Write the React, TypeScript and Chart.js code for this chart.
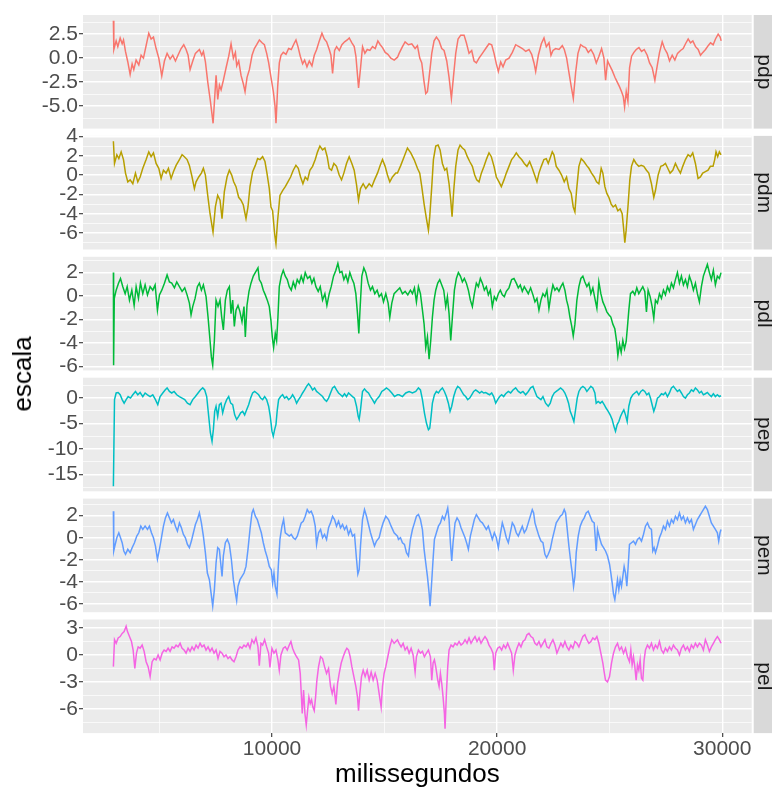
import React, { useEffect, useRef } from "react";
import { Chart, registerables } from "chart.js";

Chart.register(...registerables);

type Pt = [number, number];

// ---- series: [milissegundos, escala] ----
const pdp: Pt[] = [
  [2950,3.9],[2970,0.9],[3073,1.8],[3147,1.2],[3251,2.1],[3340,1.5],[3400,1.9],[3487,0.7],[3591,-0.4],[3694,-1.7],
  [3783,-0.6],[3857,-1.2],[3960,-0.2],[4079,-0.7],[4182,0.3],[4286,0.0],[4404,1.3],[4522,2.6],[4626,2.0],[4730,2.2],
  [4848,1.0],[4967,0.0],[5100,-1.85],[5218,-0.3],[5337,0.5],[5470,-0.1],[5588,0.3],[5707,-0.3],[5840,0.4],[5958,1.0],
  [6076,1.4],[6180,0.9],[6269,0.3],[6358,-1.2],[6476,-0.3],[6594,0.5],[6772,0.9],[6876,0.3],[6950,0.7],[7039,-0.4],
  [7143,-2.5],[7261,-4.5],[7380,-6.8],[7454,-4.0],[7513,-1.8],[7587,-4.3],[7661,-2.8],[7735,-3.3],[7838,-2.3],[7957,-1.0],
  [8075,0.2],[8178,1.5],[8282,0.0],[8371,0.6],[8430,-0.8],[8518,-0.3],[8622,-1.8],[8726,-2.7],[8800,-3.5],[8889,-2.0],
  [8992,-1.2],[9111,0.3],[9214,1.0],[9318,1.4],[9436,1.9],[9554,1.6],[9658,1.4],[9761,0.5],[9850,-0.5],[9953,-2.0],
  [10057,-3.5],[10131,-5.0],[10175,-6.8],[10249,-3.0],[10323,-0.5],[10397,0.3],[10500,0.6],[10619,0.4],[10737,1.0],[10855,0.9],
  [10974,1.5],[11062,1.9],[11151,1.2],[11254,0.2],[11358,-0.6],[11447,-0.2],[11550,-0.9],[11654,-0.3],[11772,-0.8],[11876,0.3],
  [11980,0.9],[12098,1.8],[12216,2.6],[12320,2.0],[12423,1.7],[12541,0.9],[12615,0.3],[12689,-1.6],[12778,0.8],[12867,1.2],
  [12985,0.8],[13103,1.4],[13222,1.7],[13340,1.9],[13429,2.1],[13547,1.6],[13651,1.2],[13725,0.2],[13843,-3.1],[13932,-1.0],
  [14020,1.2],[14124,0.5],[14228,0.9],[14346,0.8],[14464,1.2],[14583,1.0],[14701,1.8],[14805,1.4],[14908,1.1],[15027,0.6],
  [15145,0.4],[15278,0.0],[15426,-0.2],[15574,0.1],
  [15645,0.5],[15793,1.2],[15911,1.7],[16059,1.4],[16207,1.5],[16355,1.0],[16459,1.3],[16562,0.0],[16651,-0.5],[16755,-2.5],
  [16829,-3.7],[16903,-3.5],[16977,-2.0],[17095,0.5],[17198,1.8],[17302,2.2],[17420,1.8],[17539,1.0],[17642,0.8],[17761,-0.3],
  [17864,-2.0],[17968,-4.2],[18057,-2.0],[18160,0.5],[18264,2.0],[18382,2.4],[18530,2.4],[18633,1.6],[18752,0.5],[18870,0.8],
  [18974,-0.3],[19077,-0.5],[19196,0.0],[19344,0.5],[19492,1.0],[19640,1.5],[19758,1.4],[19862,0.5],[19965,-0.6],[20054,-1.4],
  [20158,-0.4],[20261,-0.9],[20380,-0.2],[20528,0.0],[20676,0.6],[20824,1.4],[20972,1.2],[21120,1.0],[21268,0.7],[21416,0.9],
  [21534,0.4],[21638,-0.5],[21712,-1.4],[21830,0.3],[21963,1.5],[22082,2.1],[22185,1.2],[22304,1.6],[22392,0.3],[22481,0.8],
  [22600,1.0],[22748,0.9],[22895,1.3],[22984,0.9],[23088,0.0],[23191,-1.5],[23295,-3.0],[23384,-4.2],[23487,-1.5],[23591,0.5],
  [23709,1.4],[23828,1.2],[23931,1.1],[24050,0.6],[24168,0.9],[24286,0.4],[24405,-0.5],[24523,0.2],[24641,1.0],[24745,0.0],
  [24819,-2.3],[24908,-0.3],[25011,-0.8],[25115,-1.3],[25233,-2.0],[25337,-2.5],[25440,-3.0],[25529,-3.5],[25603,-4.0],[25662,-5.1],
  [25736,-3.5],[25810,-4.5],[25884,-1.0],[25973,0.2],[26077,0.6],[26180,0.9],[26298,1.1],[26417,0.7],[26535,0.9],[26668,0.3],
  [26772,-0.5],[26890,-1.0],[27008,-2.3],[27112,-0.8],[27216,0.6],[27334,1.7],[27437,1.0],[27556,0.5],[27660,-0.3],[27778,0.3],
  [27896,-0.2],[28015,0.5],[28148,0.8],[28266,1.0],[28370,1.5],[28488,2.0],[28592,1.6],[28695,1.8],[28814,1.2],[28932,0.9],
  [29036,0.3],[29139,0.6],[29258,0.9],[29376,1.3],[29480,1.6],[29598,1.4],[29701,2.0],[29820,2.5],[29909,2.2],[29953,1.8],
];

const pdm: Pt[] = [
  [2950,3.5],[3000,1.2],[3103,2.1],[3192,1.7],[3295,2.4],[3399,1.6],[3488,0.2],[3591,-0.7],[3695,-0.5],[3813,-0.9],
  [3931,0.2],[4035,-0.7],[4138,-0.2],[4257,0.7],[4405,1.6],[4523,2.4],[4626,1.9],[4730,2.3],[4848,1.2],[4967,0.7],
  [5070,-0.35],[5174,0.5],[5292,0.2],[5396,0.7],[5514,-0.35],[5617,0.35],[5736,1.0],[5884,1.6],[6002,2.1],[6105,1.9],
  [6224,1.6],[6327,1.0],[6446,-0.2],[6549,-1.4],[6623,-0.7],[6741,-0.2],[6860,0.2],[6948,0.7],[7037,0.0],[7141,-2.1],
  [7244,-4.0],[7377,-5.9],[7481,-3.3],[7584,-2.1],[7688,-2.6],[7777,-4.5],[7880,-1.7],[7999,-0.2],[8102,0.5],[8206,0.0],
  [8294,-0.7],[8398,-1.2],[8516,-2.3],[8620,-2.6],[8723,-3.1],[8842,-4.5],[8930,-3.3],[9019,-1.2],[9137,0.35],[9256,1.0],
  [9359,1.7],[9463,1.6],[9581,1.9],[9685,1.4],[9773,0.2],[9877,-1.4],[9951,-3.3],[10025,-3.7],[10114,-6.1],[10173,-7.1],
  [10247,-4.7],[10350,-2.1],[10469,-1.6],[10587,-1.2],[10705,-0.7],[10823,-0.2],[10942,0.5],[11060,1.0],[11164,0.7],[11267,-0.2],
  [11371,-0.9],[11474,-0.2],[11578,-0.5],[11681,0.5],[11800,0.9],[11918,1.6],[12021,2.4],[12125,3.0],[12243,2.6],[12347,2.8],
  [12450,1.9],[12539,0.7],[12643,0.5],[12746,1.2],[12864,0.9],[12983,0.0],[13086,-0.5],[13190,0.2],[13308,1.2],[13426,1.9],
  [13545,1.2],[13648,0.5],[13752,-1.0],[13841,-2.6],[13929,-1.4],[14048,-0.9],[14166,-1.4],[14314,-0.9],[14432,-1.2],[14551,-0.5],
  [14684,0.2],[14802,1.0],[14906,1.6],[15024,0.9],[15127,0.0],[15231,-0.7],[15349,-0.2],[15497,0.2],
  [15571,0.2],[15719,1.0],[15867,1.9],[16015,2.8],[16163,2.3],[16311,1.6],[16459,0.7],[16562,0.2],[16651,-1.2],[16755,-3.0],
  [16858,-4.5],[16947,-5.7],[17006,-4.3],[17095,-1.2],[17169,1.6],[17272,3.0],[17376,3.1],[17465,2.6],[17568,1.2],[17672,0.5],
  [17760,0.7],[17864,-0.9],[17938,-2.6],[17997,-4.3],[18071,-1.6],[18160,0.9],[18263,2.6],[18352,3.1],[18456,2.8],[18559,2.6],
  [18677,1.9],[18781,1.4],[18899,0.9],[19003,0.0],[19091,-0.5],[19195,-0.7],[19299,0.2],[19417,0.9],[19535,1.7],[19639,2.3],
  [19742,1.9],[19861,0.9],[19964,-0.2],[20082,-0.7],[20186,-1.2],[20304,-0.5],[20408,0.2],[20526,0.9],[20644,1.6],[20748,1.9],
  [20851,2.3],[20970,1.9],[21088,1.6],[21206,1.2],[21325,0.9],[21443,1.4],[21561,0.7],[21665,0.0],[21768,-0.7],[21857,0.2],
  [21961,0.9],[22079,1.6],[22183,1.7],[22271,1.2],[22375,1.9],[22449,2.4],[22523,2.1],[22626,0.9],[22745,0.5],[22863,0.0],
  [22981,-0.7],[23085,-0.2],[23188,-1.4],[23292,-1.9],[23381,-3.3],[23455,-3.8],[23528,-1.6],[23632,0.9],[23736,1.7],[23854,1.4],
  [23972,1.0],[24076,0.7],[24194,0.2],[24312,-0.2],[24416,-0.7],[24519,-0.9],[24623,0.7],[24697,0.2],[24786,-1.2],[24874,-1.9],
  [24963,-2.3],[25067,-3.0],[25155,-3.3],[25259,-3.1],[25362,-3.7],[25466,-3.5],[25555,-4.0],[25614,-5.4],[25673,-7.0],[25732,-5.7],
  [25821,-3.0],[25895,-0.5],[25969,0.9],[26072,1.6],[26176,1.2],[26294,0.9],[26398,1.0],[26516,0.9],[26634,0.5],[26738,0.2],
  [26856,-0.9],[26960,-2.3],[27034,-1.6],[27152,0.0],[27270,0.9],[27374,1.0],[27477,1.2],[27581,0.7],[27684,0.2],[27803,0.5],
  [27921,1.2],[28025,0.7],[28143,0.2],[28246,0.9],[28365,1.6],[28483,2.1],[28587,1.9],[28690,2.3],[28809,1.2],[28927,-0.35],
  [29030,-0.2],[29134,0.2],[29252,0.35],[29371,0.5],[29474,0.9],[29592,0.9],[29666,1.6],[29725,2.4],[29799,1.9],[29873,2.4],
  [29947,2.1],
];

const pdl: Pt[] = [
  [2950,2.0],[2960,-5.9],[2990,-0.2],[3074,0.5],[3177,1.1],[3266,1.5],[3369,0.8],[3473,0.2],[3562,0.8],[3665,-0.35],
  [3769,0.5],[3872,-0.8],[3961,0.8],[4064,-0.2],[4153,1.1],[4257,0.2],[4360,0.95],[4464,0.1],[4582,0.8],[4700,0.5],
  [4804,0.95],[4907,-1.2],[4996,0.1],[5100,0.5],[5218,1.1],[5336,1.8],[5440,1.2],[5543,1.1],[5662,0.7],[5765,1.2],
  [5884,0.8],[6002,0.4],[6120,0.7],[6224,0.1],[6327,-0.6],[6401,-1.6],[6475,-0.9],[6579,-0.2],[6682,0.8],[6771,1.1],
  [6860,0.5],[6948,0.95],[7067,-0.05],[7156,-1.8],[7244,-3.8],[7303,-5.2],[7363,-5.9],[7437,-3.8],[7511,-0.35],[7599,-0.9],
  [7688,-0.35],[7762,-1.8],[7836,-2.9],[7925,-0.35],[8013,0.5],[8102,0.8],[8176,-1.5],[8250,-0.35],[8324,-2.6],[8398,-1.2],
  [8487,-0.8],[8575,-1.35],[8664,-2.2],[8753,-0.9],[8812,-3.5],[8886,-0.8],[8975,0.4],[9063,1.1],[9167,1.7],[9285,2.1],
  [9374,2.4],[9433,1.4],[9522,1.1],[9611,0.5],[9699,0.1],[9788,-0.35],[9877,-0.9],[9951,-2.1],[10010,-3.5],[10069,-4.4],
  [10143,-3.2],[10202,-3.8],[10261,-1.8],[10321,0.8],[10409,1.7],[10498,2.2],[10587,1.7],[10676,1.4],[10764,0.8],[10853,0.5],
  [10942,1.2],[11031,0.7],[11119,1.4],[11208,1.1],[11297,1.7],[11385,1.2],[11474,2.0],[11578,1.5],[11681,1.7],[11770,1.1],
  [11859,1.5],[11948,0.8],[12051,0.4],[12140,0.8],[12243,-0.35],[12347,0.2],[12436,-0.8],[12539,0.2],[12628,0.8],[12731,1.7],
  [12835,2.2],[12924,2.8],[13012,2.0],[13101,2.1],[13190,1.4],[13279,1.8],[13367,1.2],[13456,2.0],[13545,1.5],[13634,1.1],
  [13722,0.2],[13796,-1.5],[13855,-3.2],[13915,-0.9],[13989,1.7],[14077,2.4],[14166,2.0],[14270,1.1],[14373,0.5],[14462,0.8],
  [14565,0.2],[14669,0.5],[14758,-0.05],[14861,0.2],[14950,-0.5],[15053,0.2],[15157,-0.6],[15231,-1.8],[15320,-0.6],[15423,0.2],
  [15571,0.5],
  [15675,0.7],[15793,0.2],[15912,0.4],[16030,0.1],[16148,0.5],[16237,0.2],[16326,0.7],[16414,-0.5],[16503,0.8],[16592,0.2],
  [16681,-1.2],[16755,-2.4],[16829,-4.4],[16903,-3.5],[16977,-5.4],[17050,-3.8],[17124,-1.8],[17198,-0.35],[17272,0.5],[17361,1.1],
  [17450,1.4],[17539,0.95],[17627,0.5],[17716,-0.9],[17790,-0.05],[17864,-1.5],[17938,-3.8],[18012,-1.8],[18101,0.5],[18189,1.5],
  [18278,2.0],[18367,1.7],[18456,1.2],[18544,1.5],[18633,1.1],[18722,0.5],[18810,-0.35],[18899,-0.9],[18988,0.2],[19077,1.1],
  [19165,0.8],[19254,1.5],[19343,1.1],[19432,0.5],[19520,0.8],[19609,0.1],[19698,0.5],[19787,-0.9],[19875,-0.05],[19964,-0.35],
  [20053,0.2],[20142,0.5],[20230,0.1],[20319,-0.05],[20408,0.4],[20526,0.7],[20644,1.4],[20748,1.5],[20851,1.1],[20940,0.7],
  [21029,0.95],[21118,0.4],[21206,0.8],[21295,0.5],[21384,0.2],[21487,0.7],[21591,0.1],[21680,-0.5],[21768,-0.2],[21857,-1.2],
  [21946,-0.35],[22035,0.2],[22123,-0.05],[22212,0.5],[22301,-1.05],[22390,0.1],[22478,0.95],[22567,0.5],[22656,0.7],[22745,0.4],
  [22833,0.8],[22922,1.1],[23011,0.5],[23085,-0.35],[23159,-0.9],[23233,-1.8],[23307,-2.5],[23381,-3.4],[23455,-2.4],[23543,-0.35],
  [23632,0.8],[23721,1.5],[23809,1.7],[23898,1.2],[23987,0.8],[24076,1.1],[24164,0.2],[24253,0.7],[24342,-0.2],[24431,-1.05],
  [24519,1.2],[24608,0.2],[24697,-0.5],[24786,-0.9],[24874,-1.35],[24963,-1.6],[25052,-1.8],[25141,-2.4],[25229,-2.8],[25303,-3.8],
  [25363,-5.1],[25437,-4.1],[25511,-4.8],[25584,-3.8],[25658,-4.5],[25732,-3.9],[25791,-2.6],[25851,-1.2],[25924,0.2],[26028,0.4],
  [26117,0.1],[26205,0.7],[26294,0.2],[26383,0.5],[26472,0.8],[26560,0.4],[26634,-1.35],[26708,0.5],[26797,-0.05],[26886,-0.9],
  [26960,-1.9],[27034,-0.35],[27122,-0.6],[27211,0.2],[27300,-0.2],[27389,0.5],[27477,0.1],[27566,0.8],[27655,0.4],[27744,1.1],
  [27832,0.7],[27921,1.4],[28010,2.0],[28099,1.1],[28187,1.7],[28276,0.95],[28365,1.4],[28454,0.8],[28542,1.7],[28631,1.2],
  [28720,0.5],[28809,1.1],[28897,0.2],[28986,-0.5],[29075,0.8],[29163,1.7],[29252,2.2],[29341,2.7],[29430,2.0],[29518,1.4],
  [29607,2.2],[29696,0.95],[29785,1.7],[29873,1.5],[29947,2.0],
];

const pep: Pt[] = [
  [2950,-17.3],[3000,-0.3],[3074,1.0],[3162,1.1],[3251,0.65],[3340,-0.3],[3428,-1.0],[3517,-0.3],[3606,0.3],[3709,0.0],
  [3813,0.65],[3931,1.3],[4035,0.65],[4138,1.1],[4257,0.3],[4360,1.0],[4464,0.65],[4582,0.3],[4700,0.65],[4819,-0.3],
  [4922,-1.3],[5026,0.3],[5144,1.0],[5248,1.6],[5336,2.0],[5440,1.3],[5543,1.0],[5647,1.3],[5765,0.65],[5884,0.3],
  [6002,0.0],[6120,-0.3],[6239,-1.0],[6357,-1.3],[6475,-0.3],[6594,0.3],[6712,1.0],[6815,1.6],[6919,2.0],[7008,1.6],
  [7096,0.3],[7185,-3.6],[7259,-6.8],[7333,-8.5],[7392,-6.2],[7451,-2.6],[7511,-1.6],[7584,-3.6],[7658,-1.3],[7732,-1.0],
  [7806,-2.9],[7895,-1.3],[7984,-0.3],[8073,0.3],[8161,-1.0],[8250,-1.3],[8339,-3.3],[8427,-4.2],[8516,-3.6],[8605,-2.9],
  [8694,-2.6],[8782,-3.3],[8871,-2.3],[8960,-1.3],[9049,0.0],[9137,1.0],[9226,1.3],[9315,1.0],[9404,0.65],[9492,0.0],
  [9581,-0.3],[9670,0.3],[9759,-0.3],[9847,-1.6],[9921,-3.6],[9995,-6.5],[10054,-7.5],[10114,-6.2],[10173,-5.2],[10232,-2.3],
  [10291,-0.3],[10380,0.3],[10469,0.65],[10557,0.0],[10646,0.3],[10735,-0.3],[10823,0.0],[10912,0.65],[11001,0.0],[11090,-1.0],
  [11178,-0.3],[11267,0.3],[11356,1.0],[11445,1.6],[11533,2.3],[11622,2.8],[11711,2.3],[11800,1.6],[11888,2.0],[11977,1.3],
  [12066,1.0],[12155,0.65],[12243,0.3],[12332,-0.3],[12421,-0.65],[12510,0.0],[12598,1.0],[12687,2.0],[12776,2.3],[12864,1.6],
  [12953,1.0],[13042,0.65],[13131,0.3],[13219,0.85],[13308,0.3],[13397,1.0],[13486,0.65],[13574,0.3],[13663,0.0],[13752,-1.6],
  [13826,-3.6],[13870,-4.2],[13929,-2.3],[14018,1.3],[14107,1.8],[14196,1.3],[14284,1.0],[14373,0.3],[14462,-0.3],[14551,-1.0],
  [14639,-0.3],[14758,0.3],[14876,1.3],[14979,1.6],[15083,2.0],[15201,1.6],[15320,1.0],[15438,0.3],[15571,0.65],
  [15645,0.65],[15793,0.3],[15941,1.0],[16089,1.3],[16237,1.0],[16385,1.3],[16503,2.0],[16592,1.6],[16681,-0.3],[16769,-2.9],
  [16858,-4.9],[16947,-6.2],[17006,-5.9],[17065,-3.6],[17124,-1.0],[17213,0.65],[17302,1.3],[17391,1.0],[17479,1.6],[17568,2.0],
  [17657,1.3],[17746,0.3],[17834,-1.0],[17908,-2.6],[17982,-1.6],[18071,0.3],[18160,1.6],[18248,2.3],[18337,2.0],[18426,1.3],
  [18515,0.65],[18603,0.3],[18692,-0.3],[18781,0.0],[18870,0.65],[18958,1.3],[19047,1.6],[19136,1.3],[19225,1.0],[19313,1.3],
  [19402,1.0],[19491,1.1],[19580,0.85],[19668,0.65],[19757,1.0],[19846,0.3],[19935,-1.0],[20023,-0.3],[20112,0.3],[20201,0.65],
  [20289,0.3],[20378,0.85],[20497,1.3],[20600,1.0],[20704,1.6],[20822,2.0],[20940,1.3],[21044,1.0],[21147,1.3],[21266,0.65],
  [21384,1.3],[21487,2.0],[21591,2.3],[21680,1.3],[21768,0.3],[21857,0.0],[21946,-0.3],[22035,0.3],[22153,-1.0],[22271,-1.6],
  [22360,-1.0],[22449,0.3],[22538,1.0],[22626,1.3],[22715,1.6],[22819,2.0],[22922,1.6],[23011,1.0],[23100,0.0],[23174,-1.0],
  [23247,-2.6],[23336,-3.6],[23410,-4.6],[23484,-2.3],[23558,0.0],[23632,1.3],[23721,2.0],[23809,2.3],[23898,2.0],[23987,1.3],
  [24076,1.8],[24164,2.3],[24253,2.0],[24342,1.0],[24401,-1.0],[24490,-0.65],[24579,-1.0],[24667,-0.65],[24756,-1.3],[24845,-2.0],
  [24934,-2.6],[25022,-3.3],[25111,-4.2],[25185,-5.5],[25259,-6.5],[25333,-5.2],[25407,-4.6],[25481,-3.6],[25555,-2.9],[25629,-2.3],
  [25703,-3.3],[25777,-4.6],[25851,-1.6],[25939,0.0],[26028,0.65],[26117,1.0],[26205,1.3],[26294,0.65],[26383,1.3],[26472,1.6],
  [26560,1.3],[26649,0.65],[26738,1.0],[26812,0.0],[26886,-1.3],[26960,-2.6],[27034,-1.6],[27122,0.0],[27211,0.3],[27300,0.85],
  [27389,0.65],[27477,1.1],[27566,0.3],[27655,1.0],[27744,2.0],[27832,2.3],[27921,1.8],[28010,1.3],[28099,1.6],[28187,1.0],
  [28276,0.3],[28365,0.0],[28454,0.65],[28542,1.0],[28631,1.6],[28720,1.3],[28809,2.0],[28897,1.6],[28986,1.0],[29075,1.3],
  [29163,0.65],[29252,0.85],[29341,1.1],[29430,0.65],[29518,0.3],[29607,0.85],[29696,0.3],[29785,0.65],[29873,0.3],[29947,0.45],
];

const pem: Pt[] = [
  [2950,2.4],[2965,-1.2],[3014,-0.75],[3103,0.0],[3192,0.45],[3266,0.0],[3340,-0.45],[3414,-1.2],[3488,-1.5],[3591,-1.05],
  [3695,-1.35],[3783,-0.9],[3887,-0.45],[3990,0.15],[4079,0.45],[4168,1.05],[4257,0.75],[4360,1.05],[4464,0.75],[4552,1.05],
  [4641,0.45],[4730,0.0],[4819,-0.75],[4907,-1.95],[4996,-1.05],[5085,0.0],[5174,1.05],[5262,1.8],[5351,2.25],[5440,1.8],
  [5529,1.35],[5617,1.65],[5706,1.05],[5795,0.6],[5884,1.35],[5972,0.9],[6061,0.3],[6150,0.0],[6239,-0.6],[6327,-0.9],
  [6416,-0.3],[6505,0.45],[6594,1.2],[6682,1.65],[6771,2.25],[6860,1.35],[6948,0.15],[7037,-1.35],[7126,-3.2],[7215,-3.8],
  [7289,-5.0],[7363,-6.2],[7437,-4.7],[7511,-2.3],[7584,-0.9],[7658,-1.05],[7718,-2.3],[7777,-3.5],[7836,-1.65],[7925,-0.45],
  [8013,-0.15],[8102,-0.6],[8191,-1.95],[8280,-3.8],[8368,-5.0],[8427,-5.7],[8487,-4.4],[8575,-3.8],[8664,-3.5],[8753,-3.2],
  [8842,-2.6],[8930,-1.05],[9019,0.75],[9108,2.25],[9167,2.55],[9256,1.95],[9344,1.65],[9433,1.05],[9522,0.45],[9611,-0.45],
  [9699,-1.2],[9788,-1.8],[9877,-2.6],[9966,-2.9],[10025,-4.1],[10084,-3.2],[10143,-4.4],[10217,-5.1],[10276,-2.6],[10350,-0.15],
  [10439,1.05],[10513,1.65],[10587,0.45],[10676,0.3],[10764,0.15],[10853,0.3],[10942,0.0],[11031,-0.15],[11119,0.15],[11208,0.75],
  [11297,1.35],[11385,1.5],[11474,1.95],[11563,2.55],[11652,2.25],[11740,2.4],[11829,1.95],[11918,1.05],[11977,-0.6],[12066,0.45],
  [12155,0.75],[12243,0.0],[12332,0.3],[12421,-0.15],[12510,0.9],[12598,1.35],[12687,1.95],[12776,1.65],[12864,1.05],[12953,1.5],
  [13042,0.9],[13131,1.2],[13219,0.75],[13308,1.05],[13397,0.3],[13486,0.75],[13574,0.15],[13663,0.3],[13752,-1.95],[13811,-3.3],
  [13870,-2.9],[13929,-0.75],[14018,1.65],[14107,2.55],[14196,1.95],[14284,1.2],[14373,0.45],[14462,-0.15],[14551,-0.75],[14639,-0.3],
  [14758,0.0],[14846,0.75],[14935,1.35],[15053,1.95],[15172,1.65],[15290,1.05],[15423,0.45],[15571,0.15],
  [15616,-0.15],[15705,0.0],[15793,-0.45],[15882,-0.6],[15971,-1.35],[16060,-1.65],[16148,-0.15],[16237,0.75],[16326,1.35],[16414,1.95],
  [16503,2.1],[16592,1.65],[16681,0.75],[16755,-1.05],[16829,-2.3],[16903,-3.5],[16977,-5.0],[17021,-6.2],[17080,-4.4],[17154,-1.95],
  [17213,-0.15],[17302,0.45],[17391,1.05],[17479,1.35],[17568,1.95],[17657,1.65],[17746,2.25],[17805,2.7],[17864,1.65],[17923,-0.45],
  [17982,-2.1],[18041,-0.45],[18130,1.35],[18219,1.8],[18308,1.5],[18396,0.9],[18485,0.45],[18574,0.0],[18663,-0.6],[18722,-1.05],
  [18810,0.15],[18899,0.9],[18988,1.65],[19077,2.1],[19165,1.8],[19254,1.5],[19343,1.35],[19432,1.05],[19520,0.75],[19609,1.05],
  [19698,0.45],[19787,-0.15],[19875,0.45],[19964,0.0],[20053,-0.9],[20142,0.3],[20230,1.35],[20319,0.75],[20408,0.0],[20497,-0.45],
  [20585,0.45],[20674,1.35],[20763,1.05],[20851,0.45],[20940,0.15],[21029,0.6],[21118,1.05],[21206,0.45],[21295,0.75],[21384,1.35],
  [21473,1.95],[21561,2.55],[21621,2.25],[21680,1.35],[21768,0.75],[21857,0.15],[21946,-0.3],[22035,-0.45],[22123,-1.5],[22197,-1.8],
  [22271,-1.5],[22360,-1.05],[22449,-0.15],[22538,0.6],[22626,1.35],[22715,1.65],[22804,1.95],[22893,2.1],[22981,2.55],[23040,2.25],
  [23100,1.05],[23188,-0.75],[23277,-2.3],[23336,-3.2],[23395,-4.4],[23455,-3.5],[23514,-1.35],[23602,0.15],[23691,1.05],[23780,1.5],
  [23869,1.8],[23957,2.25],[24046,2.4],[24135,1.95],[24224,1.5],[24312,1.35],[24401,-1.2],[24460,0.75],[24549,0.0],[24638,-0.6],
  [24727,-0.9],[24815,-1.2],[24904,-1.65],[24993,-2.4],[25052,-3.2],[25111,-4.1],[25170,-5.1],[25229,-5.6],[25289,-4.7],[25348,-3.8],
  [25407,-4.7],[25466,-3.8],[25525,-4.4],[25584,-3.5],[25643,-2.6],[25703,-3.2],[25762,-4.4],[25821,-2.6],[25880,-0.6],[25969,-0.45],
  [26057,-0.3],[26146,-0.6],[26235,-0.15],[26324,0.0],[26413,-0.3],[26501,0.3],[26590,1.05],[26679,1.35],[26767,0.9],[26856,0.75],
  [26915,-1.2],[26975,-0.9],[27034,-1.35],[27122,-0.75],[27211,0.0],[27300,0.45],[27389,1.05],[27477,0.75],[27566,1.5],[27655,1.05],
  [27744,1.65],[27832,1.35],[27921,1.95],[28010,1.65],[28099,2.25],[28187,1.65],[28276,1.95],[28365,1.35],[28454,1.8],[28542,1.35],
  [28631,1.65],[28720,0.75],[28809,1.2],[28897,1.65],[28986,1.95],[29075,2.25],[29163,2.55],[29252,2.85],[29341,2.55],[29430,1.95],
  [29518,1.35],[29607,1.05],[29696,0.75],[29785,0.45],[29844,-0.3],[29903,0.45],[29947,0.75],
];

const pel: Pt[] = [
  [2950,-1.3],[3000,1.7],[3074,1.3],[3162,1.9],[3251,2.05],[3340,2.4],[3428,2.6],[3517,3.2],[3576,2.6],[3665,2.05],
  [3754,1.5],[3828,0.55],[3902,-1.5],[3976,0.2],[4050,0.9],[4138,0.75],[4227,1.1],[4316,0.4],[4405,-0.75],[4493,-1.3],
  [4582,-2.4],[4671,-0.75],[4760,-0.4],[4848,-0.55],[4937,0.0],[5026,-0.55],[5115,0.2],[5203,0.55],[5292,0.4],[5381,0.75],
  [5469,0.4],[5558,0.9],[5647,0.75],[5736,1.1],[5824,0.9],[5913,1.3],[6002,0.75],[6091,0.55],[6179,0.2],[6268,0.75],
  [6357,0.4],[6446,0.9],[6534,0.55],[6623,1.1],[6712,0.75],[6801,1.3],[6889,0.9],[6978,1.1],[7067,0.55],[7156,0.9],
  [7244,0.4],[7333,0.75],[7422,0.2],[7511,0.55],[7599,-0.4],[7688,0.4],[7777,0.2],[7866,-0.2],[7954,0.0],[8043,-0.4],
  [8132,-0.2],[8220,-0.55],[8309,-0.75],[8398,-0.2],[8487,0.55],[8575,0.9],[8664,0.75],[8753,1.1],[8842,0.9],[8930,1.3],
  [9019,0.75],[9108,1.7],[9197,1.3],[9285,1.9],[9374,0.9],[9433,-1.2],[9507,1.3],[9581,1.1],[9670,1.7],[9759,0.9],
  [9847,0.2],[9906,-1.4],[9995,0.75],[10084,0.2],[10173,0.55],[10261,-0.55],[10321,-1.7],[10395,0.0],[10498,0.75],[10587,0.9],
  [10676,0.55],[10764,1.1],[10838,1.5],[10912,0.75],[11001,0.2],[11090,-0.2],[11178,-0.55],[11252,-2.05],[11297,-4.3],[11341,-6.5],
  [11400,-3.9],[11459,-6.5],[11519,-7.8],[11578,-6.2],[11637,-4.7],[11696,-5.4],[11755,-5.0],[11814,-5.8],[11874,-6.2],[11933,-4.7],
  [11992,-2.8],[12066,-1.3],[12155,-0.2],[12243,-0.4],[12332,-1.3],[12421,-2.05],[12510,-1.5],[12598,-3.5],[12672,-4.3],[12746,-3.5],
  [12835,-5.5],[12909,-3.2],[12983,-2.05],[13072,-0.9],[13160,-0.2],[13249,0.4],[13323,0.75],[13397,0.55],[13471,-0.2],[13545,-1.3],
  [13634,-2.4],[13722,-3.5],[13796,-4.7],[13841,-6.2],[13900,-4.3],[13974,-2.4],[14048,-1.7],[14136,-2.4],[14225,-1.7],[14314,-2.8],
  [14403,-1.9],[14491,-2.8],[14580,-2.05],[14669,-2.8],[14758,-4.3],[14846,-5.8],[14906,-3.5],[14979,-2.05],[15053,-1.3],[15142,-0.2],
  [15231,0.9],[15320,1.7],[15423,1.3],[15571,1.7],
  [15645,1.3],[15734,0.9],[15823,1.3],[15912,0.55],[16000,0.9],[16089,0.2],[16178,0.75],[16267,0.0],[16355,-1.9],[16414,-0.2],
  [16503,0.55],[16592,0.2],[16681,0.4],[16769,-0.2],[16858,0.2],[16947,0.55],[17036,-0.2],[17095,-2.8],[17154,-0.9],[17213,-0.55],
  [17272,-1.3],[17361,-2.8],[17420,-3.5],[17479,-2.05],[17539,-3.2],[17598,-4.7],[17657,-6.5],[17686,-8.2],[17746,-4.3],[17805,-1.3],
  [17864,0.55],[17953,1.1],[18041,0.9],[18130,1.3],[18219,1.1],[18308,1.5],[18396,1.1],[18485,1.3],[18574,1.7],[18663,1.3],
  [18751,1.9],[18840,1.3],[18929,1.7],[19018,2.05],[19106,1.5],[19195,1.9],[19284,1.3],[19372,1.7],[19461,2.05],[19550,1.7],
  [19639,1.1],[19727,0.75],[19816,0.2],[19875,-1.7],[19935,0.2],[20023,0.75],[20112,0.9],[20201,0.55],[20289,1.1],[20378,0.75],
  [20467,1.3],[20556,0.75],[20644,0.2],[20718,-1.7],[20792,0.0],[20881,0.75],[20970,1.3],[21059,0.9],[21147,1.5],[21236,1.7],
  [21325,2.25],[21413,2.4],[21502,2.05],[21591,1.9],[21680,1.3],[21768,1.1],[21857,1.5],[21946,0.9],[22035,1.3],[22123,1.7],
  [22212,0.9],[22301,0.75],[22390,1.3],[22478,1.7],[22567,1.1],[22656,0.2],[22745,0.75],[22833,1.3],[22922,0.9],[23011,1.5],
  [23100,0.9],[23188,0.55],[23277,1.1],[23366,0.75],[23455,1.5],[23543,1.3],[23632,0.9],[23721,1.5],[23809,2.05],[23898,2.25],
  [23987,1.7],[24076,1.3],[24164,1.5],[24253,1.9],[24342,1.7],[24431,2.05],[24519,1.3],[24608,0.2],[24697,-0.9],[24756,-1.9],
  [24815,-2.8],[24904,-3.0],[24993,-2.4],[25081,-0.9],[25170,0.2],[25259,0.9],[25348,1.3],[25437,0.55],[25525,0.9],[25614,0.2],
  [25703,0.75],[25791,-0.2],[25880,-0.75],[25939,0.55],[25998,-1.1],[26057,-0.2],[26117,-1.3],[26176,-2.8],[26235,-1.1],[26294,-1.7],
  [26353,-0.55],[26413,-2.6],[26472,-2.8],[26531,-0.55],[26590,0.55],[26679,1.1],[26767,0.75],[26856,1.3],[26945,0.55],[27034,1.1],
  [27122,0.75],[27211,1.5],[27300,0.55],[27389,0.2],[27477,0.75],[27566,0.4],[27655,0.9],[27744,0.55],[27832,1.1],[27921,0.75],
  [28010,0.55],[28099,0.0],[28187,0.75],[28276,1.1],[28365,0.55],[28454,0.9],[28542,0.4],[28631,1.1],[28720,0.75],[28809,1.3],
  [28897,0.9],[28986,1.3],[29075,1.1],[29163,0.55],[29252,1.7],[29341,1.1],[29430,0.4],[29518,0.9],[29607,1.3],[29696,1.7],
  [29785,2.05],[29873,1.7],[29947,1.3],
];

// ---- facets, colours, ticks ----
const facetNames = ["pdp", "pdm", "pdl", "pep", "pem", "pel"];
const facetColors = ["#F8766D", "#B79F00", "#00BA38", "#00BFC4", "#619CFF", "#F564E3"];
const pdpTicks = [-5, -2.5, 0, 2.5];
const pdmTicks = [-6, -4, -2, 0, 2, 4];
const pdlTicks = [-6, -4, -2, 0, 2];
const pepTicks = [-15, -10, -5, 0];
const pemTicks = [-6, -4, -2, 0, 2];
const pelTicks = [-6, -3, 0, 3];
const pdpLimits = [-7.35, 4.5];
const pdmLimits = [-7.7, 4.05];
const pdlLimits = [-6.35, 3.35];
const pepLimits = [-18.3, 4.0];
const pemLimits = [-6.75, 3.55];
const pelLimits = [-8.7, 3.95];
const xTicks = [10000, 20000, 30000];
const xLimits = [1600, 31310];
const xTitle = "milissegundos";
const yTitle = "escala";

const seriesList = [pdp, pdm, pdl, pep, pem, pel];
const tickList = [pdpTicks, pdmTicks, pdlTicks, pepTicks, pemTicks, pelTicks];
const limitList = [pdpLimits, pdmLimits, pdlLimits, pepLimits, pemLimits, pelLimits];
const decimals = [1, 0, 0, 0, 0, 0];

// ---- layout (pixels) ----
const PAGE_W = 772;
const PAGE_H = 789;
const PLOT_LEFT = 83;
const PLOT_RIGHT = 751.7;
const PANEL_TOP0 = 15;
const PANEL_H = 113.6;
const PANEL_STEP = 120.9;
const STRIP_GAP = 2;
const FONT = '"Liberation Sans", Arial, Helvetica, sans-serif';

function withMinors(majors: number[], min: number, max: number): number[] {
  const step = majors[1] - majors[0];
  const out: number[] = [];
  const start = majors[0] - step;
  const end = majors[majors.length - 1] + step;
  for (let k = 0; start + (k * step) / 2 <= end + 1e-9; k++) {
    const v = +(start + (k * step) / 2).toFixed(6);
    if (v >= min - 1e-9 && v <= max + 1e-9) out.push(v);
  }
  return out;
}
const isIn = (arr: number[], v: number) => arr.some((m) => Math.abs(m - v) < 1e-6);

const bgPlugin = {
  id: "panelBg",
  beforeDraw(chart: any) {
    const { ctx, chartArea: a } = chart;
    ctx.save();
    ctx.fillStyle = "#EBEBEB";
    ctx.fillRect(a.left, a.top, a.right - a.left, a.bottom - a.top);
    ctx.restore();
  },
};

function makeStripPlugin(label: string) {
  return {
    id: "strip",
    afterDraw(chart: any) {
      const { ctx, chartArea: a, width } = chart;
      ctx.save();
      ctx.fillStyle = "#D9D9D9";
      const x0 = a.right + STRIP_GAP;
      ctx.fillRect(x0, a.top, width - x0, a.bottom - a.top);
      ctx.translate(764, (a.top + a.bottom) / 2);
      ctx.rotate(Math.PI / 2);
      ctx.fillStyle = "#1A1A1A";
      ctx.font = `21px ${FONT}`;
      ctx.textAlign = "center";
      ctx.textBaseline = "middle";
      ctx.fillText(label, 0, 0);
      ctx.restore();
    },
  };
}

function Panel({ idx }: { idx: number }) {
  const ref = useRef<HTMLCanvasElement | null>(null);
  const top = PANEL_TOP0 + idx * PANEL_STEP;
  const bottom = top + PANEL_H;
  const last = idx === 5;
  const cTop = Math.floor(top) - 14;
  const cBottom = last ? PAGE_H : Math.ceil(bottom) + 14;
  const cH = cBottom - cTop;

  useEffect(() => {
    if (!ref.current) return;
    const majors = tickList[idx];
    const [ymin, ymax] = limitList[idx];
    const yAll = withMinors(majors, ymin, ymax);
    const xAll = withMinors([0, ...xTicks, 40000], xLimits[0], xLimits[1]);
    const chart = new Chart(ref.current, {
      type: "line",
      data: {
        datasets: [
          {
            data: seriesList[idx].map(([x, y]) => ({ x, y })),
            borderColor: facetColors[idx],
            borderWidth: 1.5,
            pointRadius: 0,
            fill: false,
            tension: 0,
          },
        ],
      },
      options: {
        animation: false,
        responsive: false,
        devicePixelRatio: 1,
        events: [],
        layout: {
          padding: {
            left: 0,
            right: PAGE_W - PLOT_RIGHT,
            top: top - cTop,
            bottom: last ? 0 : cBottom - bottom,
          },
        },
        plugins: { legend: { display: false }, tooltip: { enabled: false } },
        scales: {
          x: {
            type: "linear",
            min: xLimits[0],
            max: xLimits[1],
            afterBuildTicks: (s: any) => {
              s.ticks = xAll.map((v) => ({ value: v }));
            },
            afterFit: (s: any) => {
              s.height = last ? PAGE_H - bottom : 0;
            },
            ticks: {
              display: last,
              autoSkip: false,
              maxRotation: 0,
              padding: 0,
              color: "#4D4D4D",
              font: { family: FONT, size: 21 },
              callback: (v: any) => (isIn(xTicks, Number(v)) ? String(v) : ""),
            },
            grid: {
              color: "#FFFFFF",
              lineWidth: (c: any) => (c.tick && isIn(xTicks, c.tick.value) ? 1.4 : 0.7),
              drawTicks: last,
              tickLength: 4,
              tickWidth: 1.1,
              tickColor: (c: any) =>
                c.tick && isIn(xTicks, c.tick.value) ? "#333333" : "rgba(0,0,0,0)",
            },
            border: { display: false },
          },
          y: {
            type: "linear",
            min: ymin,
            max: ymax,
            afterBuildTicks: (s: any) => {
              s.ticks = yAll.map((v) => ({ value: v }));
            },
            afterFit: (s: any) => {
              s.width = PLOT_LEFT;
            },
            ticks: {
              autoSkip: false,
              padding: 1,
              color: "#4D4D4D",
              font: { family: FONT, size: 21 },
              callback: (v: any) =>
                isIn(majors, Number(v)) ? Number(v).toFixed(decimals[idx]) : "",
            },
            grid: {
              color: "#FFFFFF",
              lineWidth: (c: any) => (c.tick && isIn(majors, c.tick.value) ? 1.4 : 0.7),
              drawTicks: true,
              tickLength: 4,
              tickWidth: 1.1,
              tickColor: (c: any) =>
                c.tick && isIn(majors, c.tick.value) ? "#333333" : "rgba(0,0,0,0)",
            },
            border: { display: false },
          },
        },
      } as any,
      plugins: [bgPlugin, makeStripPlugin(facetNames[idx])],
    });
    return () => chart.destroy();
  }, []);

  return (
    <canvas
      ref={ref}
      width={PAGE_W}
      height={cH}
      style={{ position: "absolute", left: 0, top: cTop, width: PAGE_W, height: cH, display: "block" }}
    />
  );
}

export default function App() {
  return (
    <div
      style={{
        position: "absolute",
        left: 0,
        top: 0,
        width: PAGE_W,
        height: PAGE_H,
        background: "#FFFFFF",
        overflow: "hidden",
        fontFamily: FONT,
      }}
    >
      {facetNames.map((_, i) => (
        <Panel key={i} idx={i} />
      ))}
      <div
        style={{
          position: "absolute",
          left: 21.5,
          top: (PANEL_TOP0 + 5 * PANEL_STEP + PANEL_H + PANEL_TOP0) / 2,
          transform: "translate(-50%, -50%) rotate(-90deg)",
          fontSize: 26,
          lineHeight: 1,
          color: "#000000",
          whiteSpace: "nowrap",
        }}
      >
        {yTitle}
      </div>
      <div
        style={{
          position: "absolute",
          left: (PLOT_LEFT + PLOT_RIGHT) / 2,
          top: 760,
          transform: "translateX(-50%)",
          fontSize: 26,
          lineHeight: 1,
          color: "#000000",
          whiteSpace: "nowrap",
        }}
      >
        {xTitle}
      </div>
    </div>
  );
}
